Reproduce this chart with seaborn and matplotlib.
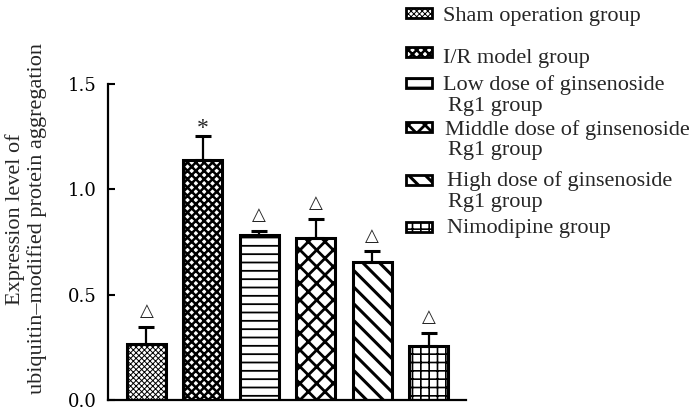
import seaborn as sns
from matplotlib import pyplot as plt
from matplotlib.patches import Rectangle
import pandas as pd
import numpy as np

# valores
grupos = ['Sham operation group',
          'I/R model group',
          'Low dose of ginsenoside\nRg1 group',
          'Middle dose of ginsenoside\nRg1 group',
          'High dose of ginsenoside\nRg1 group',
          'Nimodipine group']
medias = [0.267, 1.138, 0.782, 0.770, 0.657, 0.258]
desvios = [0.081, 0.114, 0.022, 0.091, 0.048, 0.062]
marcas = ['△', '*', '△', '△', '△', '△']
ticks_y = [0.0, 0.5, 1.0, 1.5]
labels_y = ['0.0', '0.5', '1.0', '1.5']
ylabel = 'Expression level of\nubiquitin–modified protein aggregation'

# estilo
hatches = ['xxxxxx', 'xxxx', '--', 'xx', '\\\\', '++']
hatch_lw = [0.7, 1.8, 1.3, 2.0, 2.2, 1.2]
leg_base = [20.7, 62.7, 90, 135, 186, 233]   # linea base del texto (px)
leg_patch = [13, 52, 83, 127, 180, 227]      # centro del recuadro (px)
leg_x = [443, 443, 443, 445, 447, 447]
salto = 20.5                                  # px entre lineas de leyenda

sns.set_style('ticks')
plt.rcParams['font.family'] = ['Liberation Serif', 'DejaVu Sans']
plt.rcParams['hatch.linewidth'] = 1.5
plt.rcParams['ytick.direction'] = 'in'

W, H = 700, 412
fig = plt.figure(figsize=(W / 100, H / 100), dpi=100)
ax = fig.add_axes([108 / W, 12 / H, 358 / W, 316 / H])

df = pd.DataFrame({'grupo': grupos, 'media': medias, 'sd': desvios})
sns.barplot(data=df, x='grupo', y='media', color='white', saturation=1,
            edgecolor='black', linewidth=2.2, width=0.69, errorbar=None, ax=ax)

for patch, h, lw in zip(ax.patches, hatches, hatch_lw):
    patch.set_hatch(h)
    if hasattr(patch, 'set_hatch_linewidth'):
        patch.set_hatch_linewidth(lw)

x = np.arange(len(grupos))
ax.errorbar(x, df['media'], yerr=[np.zeros(len(x)), df['sd']], fmt='none',
            ecolor='black', elinewidth=1.6, capsize=5.5, capthick=2.2, zorder=1)

for i, (m, s, mk) in enumerate(zip(medias, desvios, marcas)):
    if mk == '*':
        ax.text(i, m + s + 0.035, mk, ha='center', va='center', fontsize=17,
                family=['Liberation Serif'])
    else:
        ax.text(i, m + s + 0.075, mk, ha='center', va='center', fontsize=13,
                family=['DejaVu Sans'])

ax.set_xlim(-0.68, 5.66)
ax.set_ylim(0, 1.5)
ax.set_yticks(ticks_y)
ax.set_yticklabels(labels_y, family=['DejaVu Serif'], fontsize=13)
ax.set_xticks([])
ax.set_xlabel('')
ax.set_ylabel('')
ax.tick_params(axis='y', direction='in', length=5, width=1.5, pad=8,
               colors='black')
for sp in ['top', 'right']:
    ax.spines[sp].set_visible(False)
for sp in ['left', 'bottom']:
    ax.spines[sp].set_linewidth(1.6)
    ax.spines[sp].set_color('black')

fig.text(26 / W, 1 - 219 / H, ylabel, rotation=90, ha='center', va='center',
         multialignment='center', fontsize=16, linespacing=1.1)

# leyenda manual
for lab, h, lw, yb, yp, xt in zip(grupos, hatches, hatch_lw, leg_base,
                                  leg_patch, leg_x):
    r = Rectangle((406 / W, 1 - (yp + 5) / H), 26 / W, 10 / H,
                  transform=fig.transFigure, facecolor='white',
                  edgecolor='black', linewidth=2, hatch=h)
    if hasattr(r, 'set_hatch_linewidth'):
        r.set_hatch_linewidth(lw)
    fig.add_artist(r)
    for k, linea in enumerate(lab.split('\n')):
        x_txt = xt if k == 0 else 448
        fig.text(x_txt / W, 1 - (yb + k * salto) / H, linea, ha='left',
                 va='baseline', fontsize=16)

fig.savefig('out.png', dpi=100)
plt.close()
